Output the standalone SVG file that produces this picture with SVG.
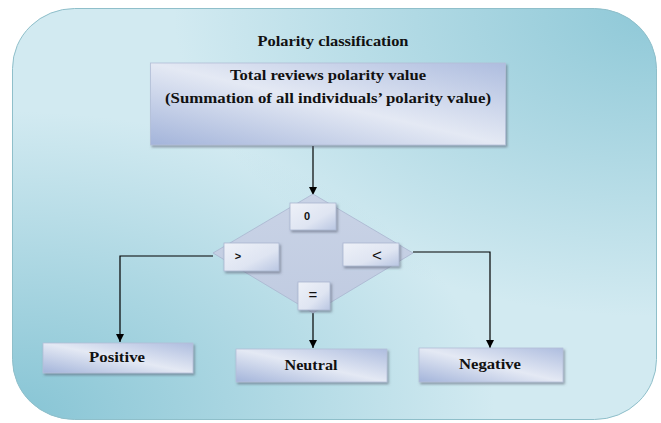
<svg xmlns="http://www.w3.org/2000/svg" width="661" height="423" viewBox="0 0 661 423">
<defs>
  <radialGradient id="bgTR" cx="1" cy="0" r="0.75" gradientUnits="objectBoundingBox">
    <stop offset="0" stop-color="#8ec8d7" stop-opacity="1"/>
    <stop offset="1" stop-color="#8ec8d7" stop-opacity="0"/>
  </radialGradient>
  <radialGradient id="bgBL" cx="0" cy="1" r="0.75" gradientUnits="objectBoundingBox">
    <stop offset="0" stop-color="#86c4d4" stop-opacity="1"/>
    <stop offset="1" stop-color="#86c4d4" stop-opacity="0"/>
  </radialGradient>
  <linearGradient id="boxg" x1="0" y1="1" x2="1" y2="0">
    <stop offset="0" stop-color="#a3b4da"/>
    <stop offset="0.5" stop-color="#e4e9f4"/>
    <stop offset="1" stop-color="#aebddf"/>
  </linearGradient>
  <linearGradient id="smallg" x1="0" y1="0" x2="1" y2="1">
    <stop offset="0" stop-color="#eef1f8"/>
    <stop offset="0.6" stop-color="#dfe5f2"/>
    <stop offset="1" stop-color="#b9c6e2"/>
  </linearGradient>
  <linearGradient id="diag" x1="0" y1="0" x2="0" y2="1">
    <stop offset="0" stop-color="#c9d3e6"/>
    <stop offset="1" stop-color="#c0cbe1"/>
  </linearGradient>
  <filter id="sh" x="-10%" y="-20%" width="125%" height="150%">
    <feDropShadow dx="1.5" dy="2" stdDeviation="1" flood-color="#55606f" flood-opacity="0.55"/>
  </filter>
  <marker id="arr" viewBox="0 0 10 10" refX="10" refY="5" markerWidth="8" markerHeight="8" markerUnits="userSpaceOnUse" orient="auto">
    <path d="M0,0 L10,5 L0,10 z" fill="#000"/>
  </marker>
  <style>
    .box { fill: url(#boxg); stroke: #b3bfd8; stroke-width: 0.8; filter: url(#sh); }
    .sbox { fill: url(#smallg); stroke: #aab6d0; stroke-width: 0.8; filter: url(#sh); }
    .t { font-family: "Liberation Serif", "Times New Roman", serif; font-weight: bold; fill: #111; text-anchor: middle; }
    .s { font-family: "Liberation Sans", Arial, sans-serif; fill: #111; text-anchor: middle; }
    .ln { fill: none; stroke: #000; stroke-width: 1.2; }
  </style>
</defs>
<rect width="661" height="423" fill="#ffffff"/>
<g id="background">
  <rect x="12.5" y="8.5" width="644" height="411" rx="62" ry="60" fill="#d2eaf1"/>
  <rect x="12.5" y="8.5" width="644" height="411" rx="62" ry="60" fill="url(#bgTR)"/>
  <rect x="12.5" y="8.5" width="644" height="411" rx="62" ry="60" fill="url(#bgBL)"/>
  <rect x="12.5" y="8.5" width="644" height="411" rx="62" ry="60" fill="none" stroke="#8fbfca" stroke-width="1"/>
</g>
<g id="title">
  <text class="t" x="333" y="46" font-size="15" textLength="151" lengthAdjust="spacingAndGlyphs">Polarity classification</text>
</g>
<g id="connectors">
  <line class="ln" x1="313" y1="146" x2="313" y2="195" marker-end="url(#arr)"/>
  <polyline class="ln" points="213,256 120,256 120,342" marker-end="url(#arr)"/>
  <polyline class="ln" points="413,252 490,252 490,348" marker-end="url(#arr)"/>
  <line class="ln" x1="313" y1="313" x2="313" y2="348" stroke="#333" stroke-width="1.6" marker-end="url(#arr)"/>
</g>
<g id="total">
  <rect class="box" x="150.5" y="63" width="355" height="82"/>
  <text class="t" x="328" y="80" font-size="15" textLength="196" lengthAdjust="spacingAndGlyphs">Total reviews polarity value</text>
  <text class="t" x="328" y="103" font-size="15" textLength="326" lengthAdjust="spacingAndGlyphs">(Summation of all individuals’ polarity value)</text>
</g>
<g id="decision">
  <polygon points="313,194 413,253 313,313 213,253" fill="url(#diag)" stroke="#a9b5cf" stroke-width="0.8"/>
  <g id="zero">
    <rect class="sbox" x="290" y="203" width="46" height="27"/>
    <text class="s" x="307" y="220" font-size="11" font-weight="bold">0</text>
  </g>
  <g id="greater">
    <rect class="sbox" x="224" y="243" width="55" height="28"/>
    <text class="s" x="238" y="260" font-size="11" font-weight="bold">&gt;</text>
  </g>
  <g id="less">
    <rect class="sbox" x="343" y="243" width="56" height="23"/>
    <text class="s" x="377" y="261" font-size="17">&lt;</text>
  </g>
  <g id="equal">
    <rect class="sbox" x="298" y="282" width="32" height="28"/>
    <text class="s" x="313" y="300" font-size="15">=</text>
  </g>
</g>
<g id="positive">
  <rect class="box" x="43" y="343" width="150" height="30"/>
  <text class="t" x="117" y="362" font-size="15" textLength="56" lengthAdjust="spacingAndGlyphs">Positive</text>
</g>
<g id="neutral">
  <rect class="box" x="236" y="349" width="151" height="33"/>
  <text class="t" x="311" y="370" font-size="15" textLength="53" lengthAdjust="spacingAndGlyphs">Neutral</text>
</g>
<g id="negative">
  <rect class="box" x="419" y="348" width="144" height="34"/>
  <text class="t" x="490" y="369" font-size="15" textLength="62" lengthAdjust="spacingAndGlyphs">Negative</text>
</g>
</svg>
